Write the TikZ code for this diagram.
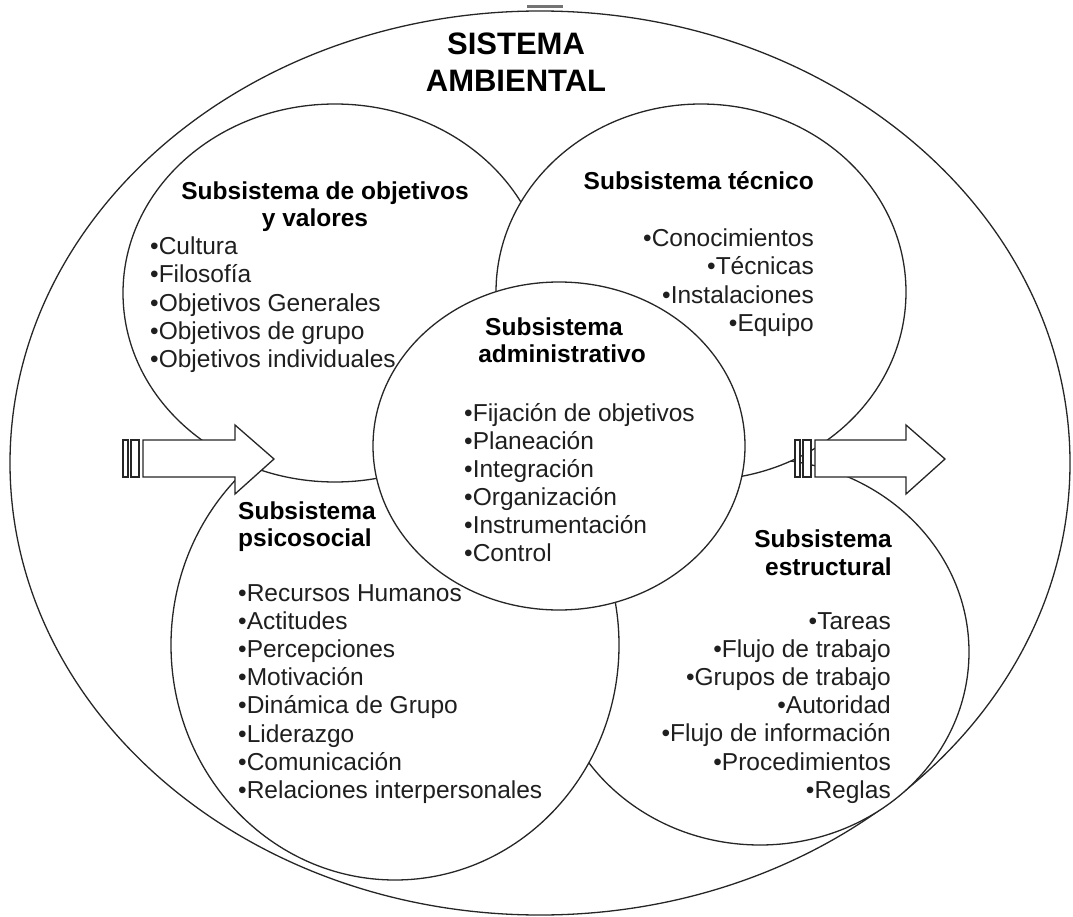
\documentclass[tikz,border=0pt]{standalone}
\usepackage{fontspec}
\setmainfont{Liberation Sans}
\usetikzlibrary{shapes.geometric}
\begin{document}
\begin{tikzpicture}[x=1pt,y=-1pt,
  ring/.style={ellipse, draw=black!85, line width=1.3pt, fill=white, inner sep=0pt, outer sep=0pt},
  blockarrow/.style={draw=black!85, line width=1.3pt, fill=white, line join=miter},
  bigtitle/.style={font=\fontsize{31}{36}\selectfont\bfseries, inner sep=0pt},
  head/.style={font=\fontsize{24.5}{28}\selectfont\bfseries, inner sep=0pt},
  item/.style={font=\fontsize{24.5}{28}\selectfont, inner sep=0pt, text=black!88}]
\useasboundingbox (0,0) rectangle (1073,917);

% environment
\node[ring, fill=none, minimum width=1060pt, minimum height=904pt] (amb) at (540,463) {};
\fill[black!55] (527,5) rectangle (563,8.5);

% subsystems, back to front
\node[ring, minimum width=418pt, minimum height=386pt] (estr) at (760,652) {};
\node[ring, minimum width=448pt, minimum height=470pt] (psic) at (395,645) {};
\node[ring, minimum width=424pt, minimum height=378pt] (obj) at (335,293) {};
\node[ring, minimum width=410pt, minimum height=376pt] (tec) at (701,292) {};
\node[ring, minimum width=372pt, minimum height=328pt] (adm) at (559,446) {};

% input arrow (striped)
\draw[blockarrow] (123,440) rectangle (128,477);
\draw[blockarrow] (131,440) rectangle (139,477);
\draw[blockarrow] (143,440) -- (235,440) -- (235,425) -- (274,459) -- (235,494) -- (235,477) -- (143,477) -- cycle;

% output arrow (striped)
\draw[blockarrow] (795,440) rectangle (800,477);
\draw[blockarrow] (803,440) rectangle (811,477);
\draw[blockarrow] (815,440) -- (906,440) -- (906,425) -- (945,459) -- (906,494) -- (906,477) -- (815,477) -- cycle;

% title
\node[bigtitle, anchor=base] (amb-t1) at (516,55) {SISTEMA};
\node[bigtitle, anchor=base] (amb-t2) at (516,92) {AMBIENTAL};

% objetivos y valores
\node[head, anchor=base] (obj-h1) at (325,200) {Subsistema de objetivos};
\node[head, anchor=base] (obj-h2) at (315,227) {y valores};
\foreach \t [count=\i from 0] in {Cultura,Filosofía,Objetivos Generales,Objetivos de grupo,Objetivos individuales}
  \node[item, anchor=base west] (obj-\i) at (150,255+28*\i) {•\t};

% técnico
\node[head, anchor=base east] (tec-h1) at (814,190) {Subsistema técnico};
\foreach \t [count=\i from 0] in {Conocimientos,Técnicas,Instalaciones,Equipo}
  \node[item, anchor=base east] (tec-\i) at (814,247+28*\i) {•\t};

% administrativo
\node[head, anchor=base] (adm-h1) at (554,335) {Subsistema};
\node[head, anchor=base] (adm-h2) at (562,362) {administrativo};
\foreach \t [count=\i from 0] in {Fijación de objetivos,Planeación,Integración,Organización,Instrumentación,Control}
  \node[item, anchor=base west] (adm-\i) at (464,421+28*\i) {•\t};

% psicosocial
\node[head, anchor=base west] (psic-h1) at (238,519) {Subsistema};
\node[head, anchor=base west] (psic-h2) at (238,546) {psicosocial};
\foreach \t [count=\i from 0] in {Recursos Humanos,Actitudes,Percepciones,Motivación,Dinámica de Grupo,Liderazgo,Comunicación,Relaciones interpersonales}
  \node[item, anchor=base west] (psic-\i) at (238,601+28.2*\i) {•\t};

% estructural
\node[head, anchor=base east] (estr-h1) at (892,547) {Subsistema};
\node[head, anchor=base east] (estr-h2) at (892,575) {estructural};
\foreach \t [count=\i from 0] in {Tareas,Flujo de trabajo,Grupos de trabajo,Autoridad,Flujo de información,Procedimientos,Reglas}
  \node[item, anchor=base east] (estr-\i) at (891,629+28.2*\i) {•\t};
\end{tikzpicture}
\end{document}
